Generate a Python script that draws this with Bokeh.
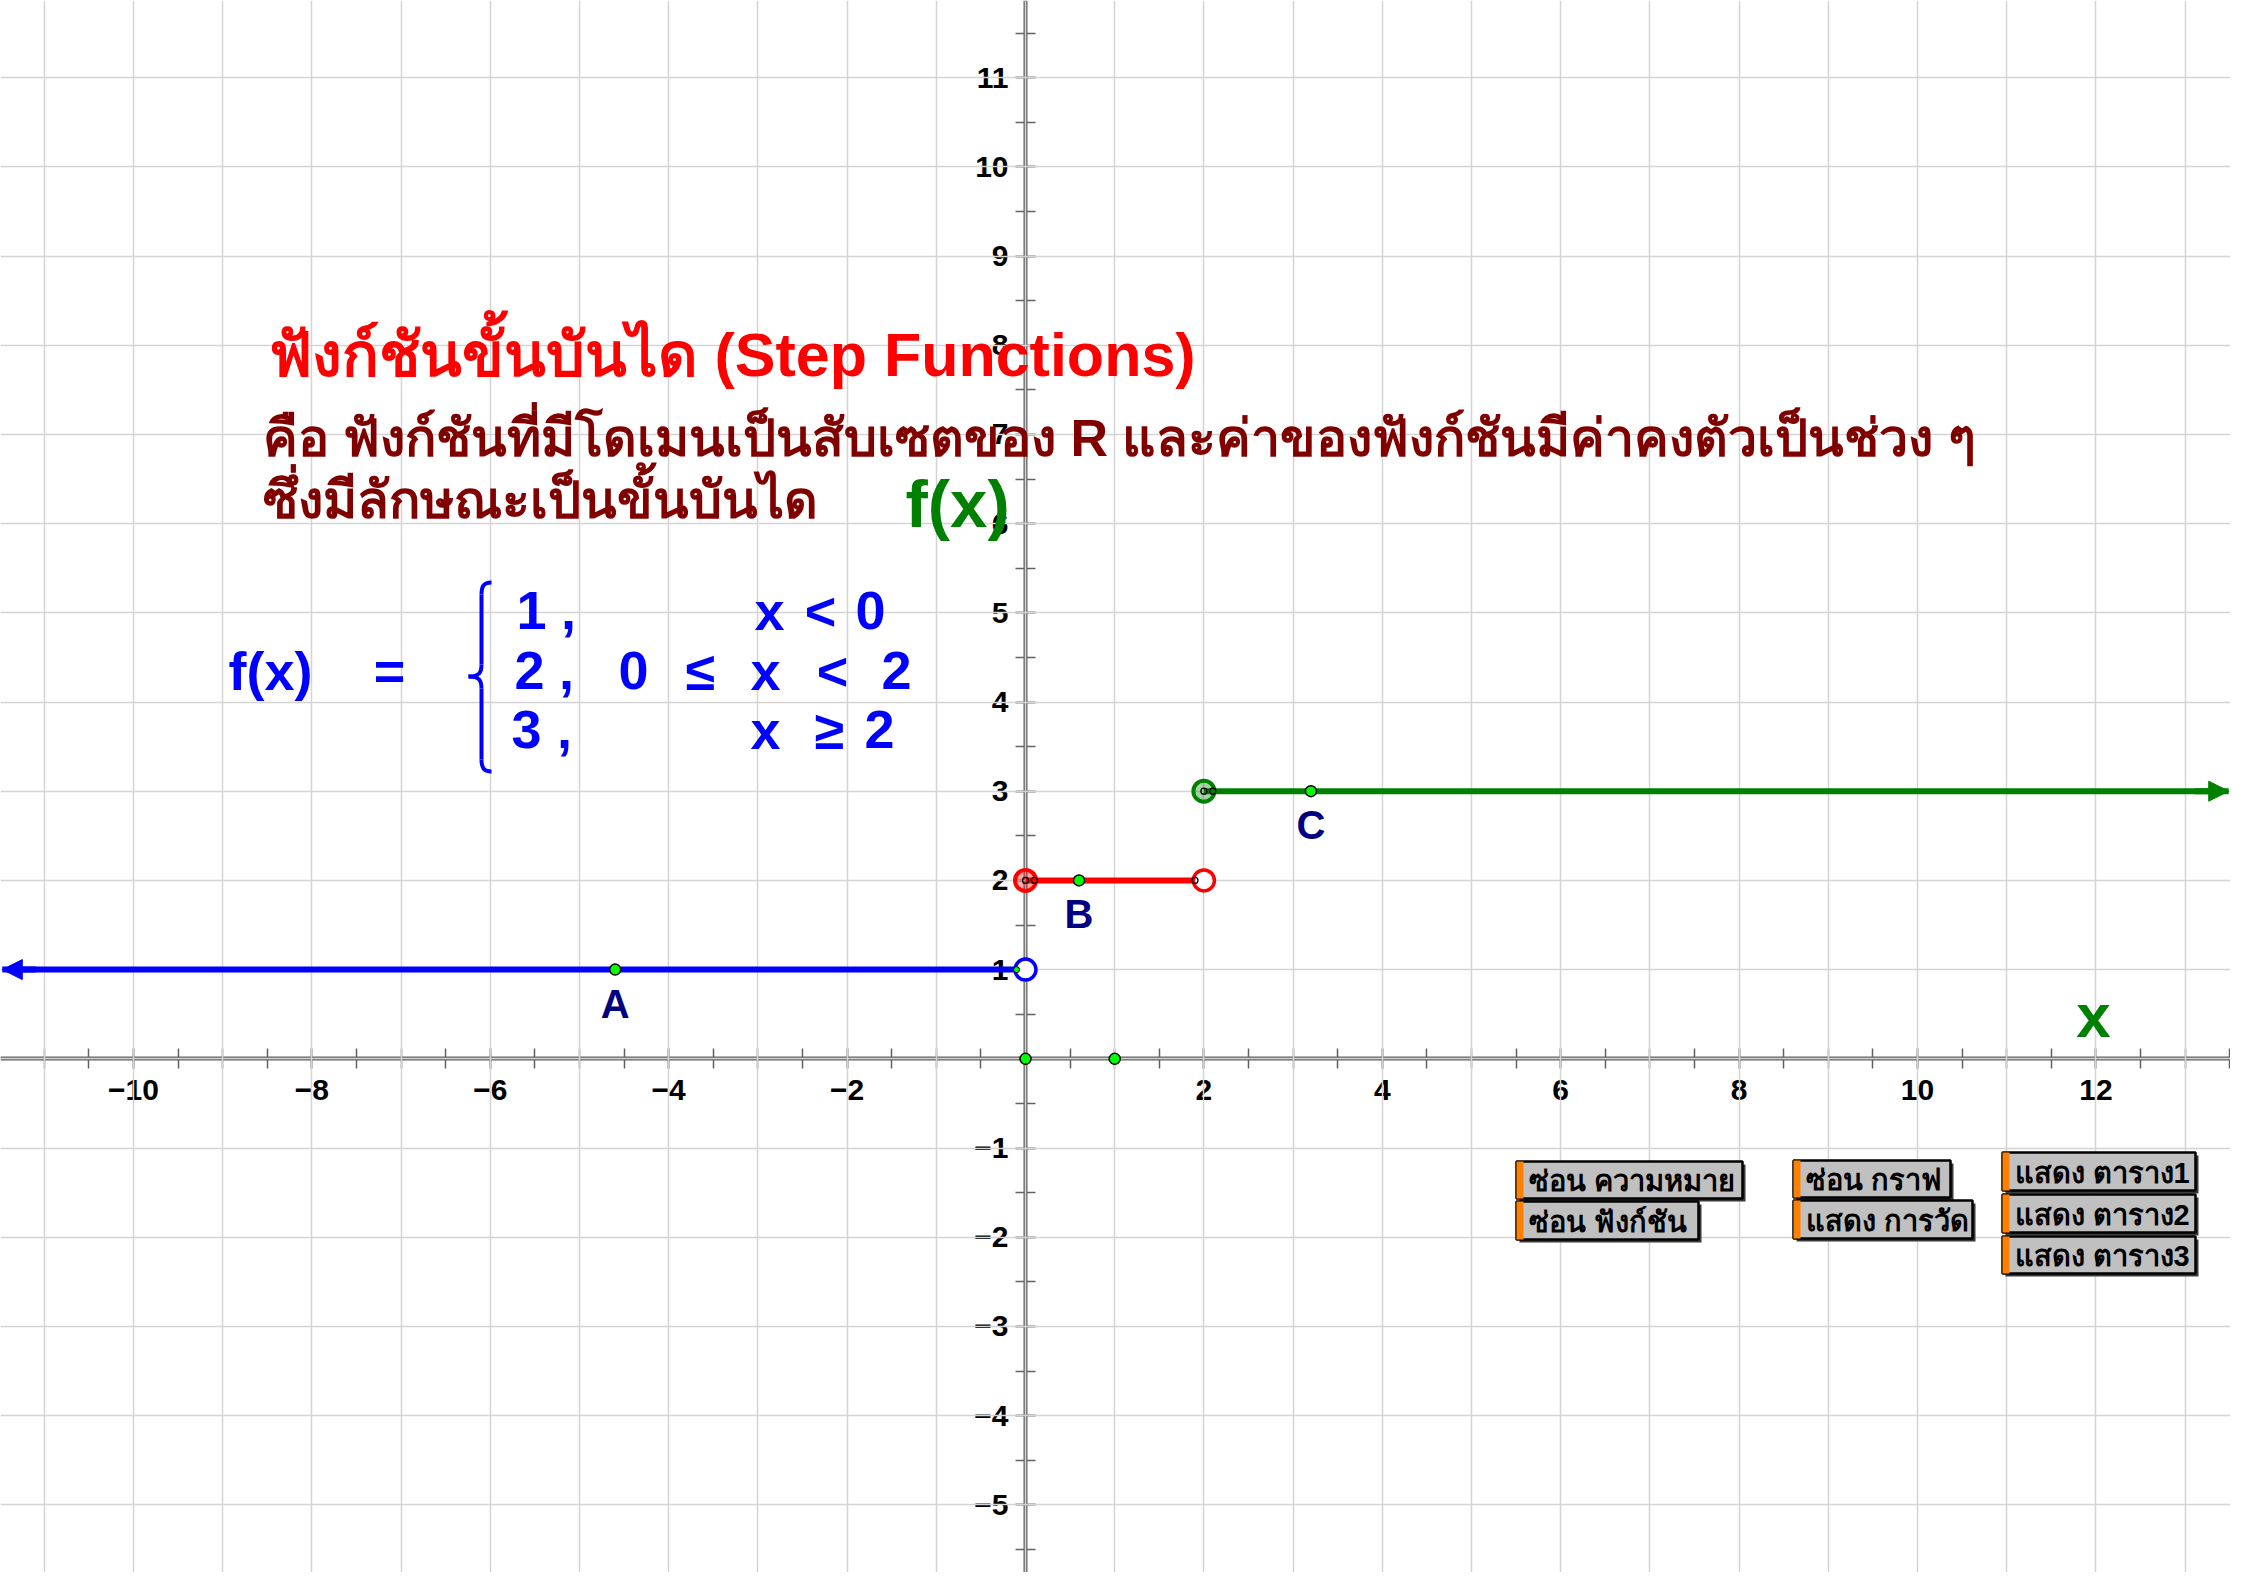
import numpy as np
from bokeh.plotting import figure
from bokeh.models import (Range1d, FixedTicker, SingleIntervalTicker, LinearAxis, Grid,
                          Arrow, NormalHead)
from bokeh.core.properties import value
from bokeh.embed import file_html
from bokeh.resources import INLINE

# ---------------- data ----------------
step_levels = [1, 2, 3]
step_left = [None, 0, 2]        # None -> continues to the left edge (arrow)
step_right = [0, 2, None]       # None -> continues to the right edge (arrow)
step_colors = ["#0000ff", "#ff0000", "#008000"]

open_end_x = [0, 2]
open_end_y = [1, 2]
open_end_colors = ["#0000ff", "#ff0000"]
closed_end_x = [0, 2]
closed_end_y = [2, 3]
closed_end_colors = ["#ff0000", "#008000"]

point_names = ["A", "B", "C"]
point_x = [-4.6, 0.6, 3.2]
point_y = [1, 2, 3]

axis_point_x = [0, 1]
axis_point_y = [0, 0]

handle_x = [0, 0.1, 1.9, 2, 2.1]
handle_y = [2, 2, 2, 3, 3]
small_point_x = [-0.1]
small_point_y = [1]

x_tick_values = [-10, -8, -6, -4, -2, 2, 4, 6, 8, 10, 12]
y_tick_values = [-6, -5, -4, -3, -2, -1, 1, 2, 3, 4, 5, 6, 7, 8, 9, 10, 11]

title_text = "ฟังก์ชันขั้นบันได (Step Functions)"
desc_lines = ["คือ ฟังก์ชันที่มีโดเมนเป็นสับเซตของ R และค่าของฟังก์ชันมีค่าคงตัวเป็นช่วง ๆ",
              "ซึ่งมีลักษณะเป็นขั้นบันได"]
fx_label = "f(x)"
x_label = "x"

button_labels = ["ซ่อน ความหมาย", "ซ่อน ฟังก์ชัน", "ซ่อน กราฟ", "แสดง การวัด",
                 "แสดง ตาราง1", "แสดง ตาราง2", "แสดง ตาราง3"]

# ---------------- layout ----------------
W, H = 2230, 1572
UNIT = 89.2
ORIGIN_PX, ORIGIN_PY = 1025.0, 1058.3   # origin in picture pixels

def dx(px):
    return (px - ORIGIN_PX) / UNIT

def dy(py):
    return (ORIGIN_PY - py) / UNIT

xs, xe = dx(0), dx(W)
ye, ys = dy(0), dy(H)

FONT = "Liberation Sans"

p = figure(width=W, height=H, x_range=Range1d(xs, xe), y_range=Range1d(ys, ye),
           output_backend="svg", toolbar_location=None,
           x_axis_location=None, y_axis_location=None,
           min_border=0, outline_line_color=None,
           background_fill_color="white", border_fill_color="white")

# grids (every unit)
for dim in (0, 1):
    g = Grid(dimension=dim, ticker=SingleIntervalTicker(interval=1),
             grid_line_color="#d4d4d4", grid_line_width=1.5)
    p.add_layout(g)

axis_style = dict(axis_line_color="#626262", axis_line_width=4,
                  major_tick_line_color="#626262", major_tick_line_width=1.5,
                  minor_tick_line_color="#626262", minor_tick_line_width=1.5,
                  major_tick_in=10, major_tick_out=10, minor_tick_in=10, minor_tick_out=10,
                  major_label_text_font=FONT, major_label_text_font_style="bold",
                  major_label_text_font_size="30px", major_label_text_color="black",
                  level="underlay")

def lab(v):
    return ("\u2212" + str(abs(v))) if v < 0 else str(v)

xaxis = LinearAxis(fixed_location=0,
                   ticker=FixedTicker(ticks=x_tick_values,
                                      minor_ticks=list(np.arange(-12, 14.01, 0.5))),
                   major_label_overrides={v: lab(v) for v in x_tick_values},
                   major_label_standoff=11, **axis_style)
p.add_layout(xaxis, "below")
yaxis = LinearAxis(fixed_location=0,
                   ticker=FixedTicker(ticks=y_tick_values,
                                      minor_ticks=list(np.arange(-7, 12.01, 0.5))),
                   major_label_overrides={v: lab(v) for v in y_tick_values},
                   major_label_standoff=7, **axis_style)
p.add_layout(yaxis, "left")

# ---------------- step function ----------------
edge_pad = 0.02
seg_x0 = [xs + edge_pad if l is None else l for l in step_left]
seg_x1 = [xe - edge_pad if r is None else r for r in step_right]
p.segment(x0=seg_x0, y0=step_levels, x1=seg_x1, y1=step_levels,
          line_color=step_colors, line_width=6)

for l, r, yv, c in zip(step_left, step_right, step_levels, step_colors):
    if l is None:
        p.add_layout(Arrow(end=NormalHead(size=20, fill_color=c, line_color=c),
                           x_start=xs + 0.4, y_start=yv, x_end=xs + edge_pad, y_end=yv,
                           line_color=c, line_width=6))
    if r is None:
        p.add_layout(Arrow(end=NormalHead(size=20, fill_color=c, line_color=c),
                           x_start=xe - 0.4, y_start=yv, x_end=xe - edge_pad, y_end=yv,
                           line_color=c, line_width=6))

p.scatter(open_end_x, open_end_y, marker="circle", size=21, fill_color="white",
          line_color=open_end_colors, line_width=3.5)
p.scatter(closed_end_x, closed_end_y, marker="circle", size=21, fill_color=closed_end_colors,
          fill_alpha=0.35, line_color=closed_end_colors, line_width=4)
p.scatter(handle_x, handle_y, marker="circle", size=6, fill_color=None,
          line_color="black", line_width=1.3)
p.scatter(small_point_x, small_point_y, marker="circle", size=6, fill_color="#00ff00",
          line_color="black", line_width=1)

# points
p.scatter(point_x, point_y, marker="circle", size=11, fill_color="#00ff00",
          line_color="black", line_width=1.5)
p.scatter(axis_point_x, axis_point_y, marker="circle", size=11, fill_color="#00ff00",
          line_color="black", line_width=1.5)
p.text(point_x, point_y, text=point_names, text_font=value(FONT), text_font_style="bold",
       text_font_size=value("40px"), text_color="#000080", text_align="center",
       text_baseline="middle", y_offset=34)

# ---------------- texts ----------------
def add_text(px, py, txt, size, color, align="left", baseline="alphabetic"):
    p.text([dx(px)], [dy(py)], text=[txt], text_font=value(FONT), text_font_style="bold",
           text_font_size=value(size), text_color=color, text_align=align,
           text_baseline=baseline)

add_text(268, 354, title_text, "61px", "#ff0000")
add_text(262, 437, desc_lines[0], "52px", "#800000")
add_text(262, 499, desc_lines[1], "52px", "#800000")
add_text(905, 503, fx_label, "67px", "#008000")
add_text(2093, 1015, x_label, "62px", "#008000", align="center")

# formula
BLUE = "#0000ff"
FS = "54px"
r1, r2, r3 = 610, 670, 729
lv = [str(v) for v in step_levels]
formula_tokens = [
    ("f(x)", 228, "left", r2), ("=", 389, "center", r2),
    (lv[0], 516, "left", r1), (",", 568, "center", r1),
    ("x", 769, "center", r1), ("<", 820, "center", r1), ("0", 870, "center", r1),
    (lv[1], 514, "left", r2), (",", 566, "center", r2), ("0", 633, "center", r2),
    ("\u2264", 700, "center", r2), ("x", 765, "center", r2), ("<", 832, "center", r2),
    ("2", 896, "center", r2),
    (lv[2], 511, "left", r3), (",", 564, "center", r3), ("x", 765, "center", r3),
    ("\u2265", 829, "center", r3), ("2", 879, "center", r3),
]
for t, px, al, py in formula_tokens:
    add_text(px, py, t, FS, BLUE, align=al)

# brace
bx, btop, bbot, bmid, bpt = 481, 582, 771, 676, 468
p.bezier(x0=[dx(bx + 10), dx(bx), dx(bpt), dx(bx)],
         y0=[dy(btop), dy(bmid - 12), dy(bmid), dy(bbot - 12)],
         x1=[dx(bx), dx(bpt), dx(bx), dx(bx + 10)],
         y1=[dy(btop + 12), dy(bmid), dy(bmid + 12), dy(bbot)],
         cx0=[dx(bx + 2), dx(bx), dx(bx - 2), dx(bx)],
         cy0=[dy(btop), dy(bmid - 4), dy(bmid), dy(bbot - 4)],
         cx1=[dx(bx), dx(bx - 2), dx(bx), dx(bx + 2)],
         cy1=[dy(btop + 4), dy(bmid), dy(bmid + 4), dy(bbot)],
         line_color=BLUE, line_width=4)
p.segment(x0=[dx(bx), dx(bx)], y0=[dy(btop + 12), dy(bmid + 12)],
          x1=[dx(bx), dx(bx)], y1=[dy(bmid - 12), dy(bbot - 12)],
          line_color=BLUE, line_width=4)

# ---------------- buttons ----------------
button_boxes = [  # left, right, top, bottom in picture pixels
    (1516, 1742, 1161, 1198), (1516, 1698, 1201, 1239),
    (1793, 1950, 1160, 1197), (1793, 1972, 1200, 1238),
    (2002, 2195, 1152, 1190), (2002, 2195, 1194, 1232), (2002, 2195, 1236, 1273),
]
bl = [dx(b[0]) for b in button_boxes]
br = [dx(b[1]) for b in button_boxes]
bt = [dy(b[2]) for b in button_boxes]
bb = [dy(b[3]) for b in button_boxes]
# shadow on bottom/right
p.quad(left=[dx(b[0] + 3) for b in button_boxes], right=[dx(b[1] + 3) for b in button_boxes],
       top=[dy(b[2] + 3) for b in button_boxes], bottom=[dy(b[3] + 3) for b in button_boxes],
       fill_color="#3a3a3a", line_color=None)
p.quad(left=bl, right=br, top=bt, bottom=bb, fill_color="#c0c0c0",
       line_color="black", line_width=2.5)
p.quad(left=bl, right=[dx(b[0] + 7) for b in button_boxes], top=bt, bottom=bb,
       fill_color="#ff8000", line_color=None)
p.text([dx(b[0] + 12) for b in button_boxes], [dy((b[2] + b[3]) / 2 + 1) for b in button_boxes],
       text=button_labels, text_font=value(FONT), text_font_style="bold",
       text_font_size=value("29px"), text_color="black", text_align="left",
       text_baseline="middle")

open("out.html", "w").write(file_html(p, INLINE))
